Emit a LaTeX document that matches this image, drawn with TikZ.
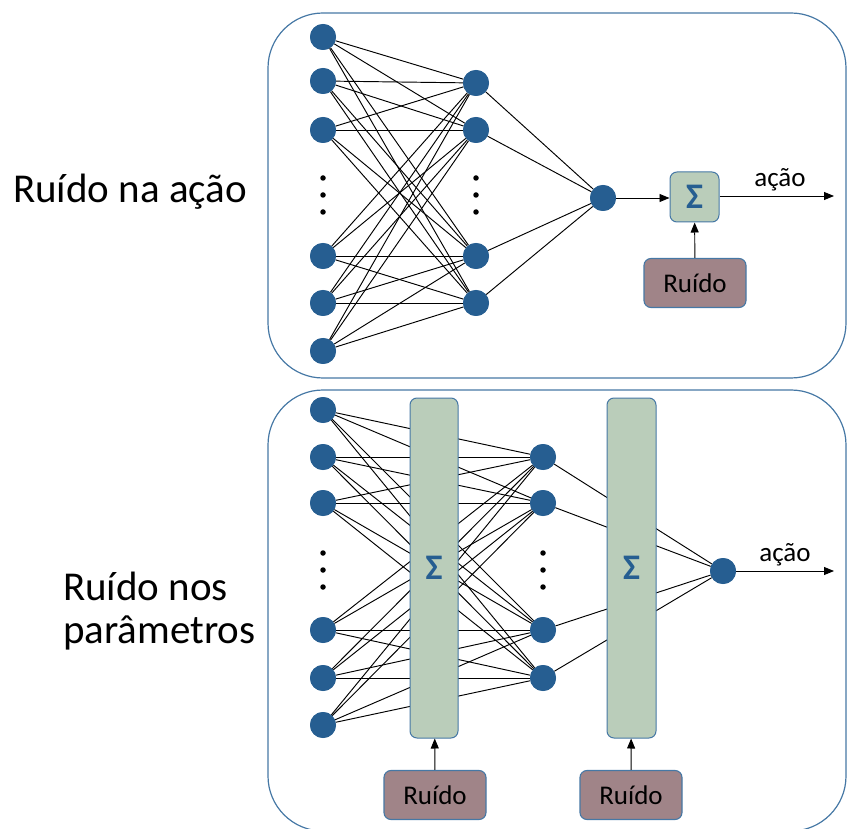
\documentclass[tikz,border=0pt]{standalone}
\usepackage{fontspec}
\setmainfont{Carlito}
\usetikzlibrary{arrows.meta}
\definecolor{neuron}{RGB}{38,94,145}
\definecolor{frame}{RGB}{70,120,165}
\definecolor{sumfill}{RGB}{186,205,186}
\definecolor{noisefill}{RGB}{160,132,136}
\begin{document}
\begin{tikzpicture}[x=1pt,y=-1pt,
  neuron/.style={circle,fill=neuron,minimum size=26pt,inner sep=0pt},
  vdot/.style={circle,fill=black,minimum size=5.5pt,inner sep=0pt},
  link/.style={draw=black,line width=0.95pt},
  panel/.style={draw=frame,line width=1.2pt,rounded corners=55pt},
  sumbox/.style={draw=frame,fill=sumfill,line width=1pt,rounded corners=7pt,inner sep=0pt,
    text=neuron,font=\fontsize{36}{40}\selectfont\bfseries},
  noisebox/.style={draw=frame,fill=noisefill,line width=1.1pt,rounded corners=7pt,
    minimum width=102pt,minimum height=49pt,inner sep=0pt,font=\fontsize{27}{30}\selectfont},
  arr/.style={-{Triangle[length=10pt,width=8pt]},line width=0.95pt},
  biglabel/.style={font=\fontsize{41}{41}\selectfont,anchor=base west,inner sep=0pt},
  smalllabel/.style={font=\fontsize{27}{30}\selectfont,inner sep=0pt}]
\useasboundingbox (0,0) rectangle (847,829);

% panels
\draw[panel] (268,13) rectangle (846,378);
\draw[panel] (268,390) rectangle (846,831);

% side labels
\node[biglabel] (lblTop) at (13,203) {Ruído na ação};
\node[biglabel] (lblBotA) at (63,600) {Ruído nos};
\node[biglabel] (lblBotB) at (63,643) {parâmetros};

% ---------- upper network: noise added to the action ----------
\foreach \i/\y in {1/37,2/81,3/130,4/256,5/303,6/351}
  \node[neuron] (tI\i) at (323,\y) {};
\foreach \i/\y in {1/83,2/130,3/256,4/303}
  \node[neuron] (tH\i) at (476,\y) {};
\node[neuron] (tO) at (603,198) {};
\foreach \i/\y in {1/178,2/195,3/212} {
  \node[vdot] (tdI\i) at (323,\y) {};
  \node[vdot] (tdH\i) at (476,\y) {};
}
\foreach \i in {1,...,6}
  \foreach \j in {1,...,4}
    \draw[link] (tI\i) -- (tH\j);
\foreach \j in {1,...,4}
  \draw[link] (tH\j) -- (tO);
% neurons drawn again over the link ends
\foreach \i/\y in {1/37,2/81,3/130,4/256,5/303,6/351}
  \node[neuron] at (323,\y) {};
\foreach \i/\y in {1/83,2/130,3/256,4/303}
  \node[neuron] at (476,\y) {};
\node[neuron] at (603,198) {};

\node[sumbox,minimum width=49pt,minimum height=50pt] (tS) at (694.5,197) {Σ};
\node[noisebox] (tN) at (695,283) {Ruído};
\coordinate (tOut) at (834,196);
\draw[arr] (tO) -- (tS.west |- tO);
\draw[arr] (tN) -- (tS);
\draw[arr] (tS.east |- tOut) -- (tOut);
\node[smalllabel] (tAct) at (780,180) {ação};

% ---------- lower network: noise added to the parameters ----------
\foreach \i/\y in {1/410,2/457,3/503,4/630,5/678,6/725}
  \node[neuron] (bI\i) at (323,\y) {};
\foreach \i/\y in {1/457,2/503,3/630,4/678}
  \node[neuron] (bH\i) at (543,\y) {};
\node[neuron] (bO) at (723,571) {};
\foreach \i/\y in {1/553,2/570,3/587} {
  \node[vdot] (bdI\i) at (323,\y) {};
  \node[vdot] (bdH\i) at (543,\y) {};
}
\foreach \i in {1,...,6}
  \foreach \j in {1,...,4}
    \draw[link] (bI\i) -- (bH\j);
\foreach \j in {1,...,4}
  \draw[link] (bH\j) -- (bO);
\foreach \i/\y in {1/410,2/457,3/503,4/630,5/678,6/725}
  \node[neuron] at (323,\y) {};
\foreach \i/\y in {1/457,2/503,3/630,4/678}
  \node[neuron] at (543,\y) {};
\node[neuron] at (723,571) {};

\node[sumbox,minimum width=48pt,minimum height=340pt] (bS1) at (434,568) {Σ};
\node[sumbox,minimum width=49pt,minimum height=340pt] (bS2) at (631.5,568) {Σ};
\node[noisebox] (bN1) at (435,795) {Ruído};
\node[noisebox] (bN2) at (631,795) {Ruído};
\draw[arr] (bN1) -- (bS1);
\draw[arr] (bN2) -- (bS2);
\coordinate (bOut) at (834,571);
\draw[arr] (bO) -- (bOut);
\node[smalllabel] (bAct) at (785,555) {ação};
\end{tikzpicture}
\end{document}
